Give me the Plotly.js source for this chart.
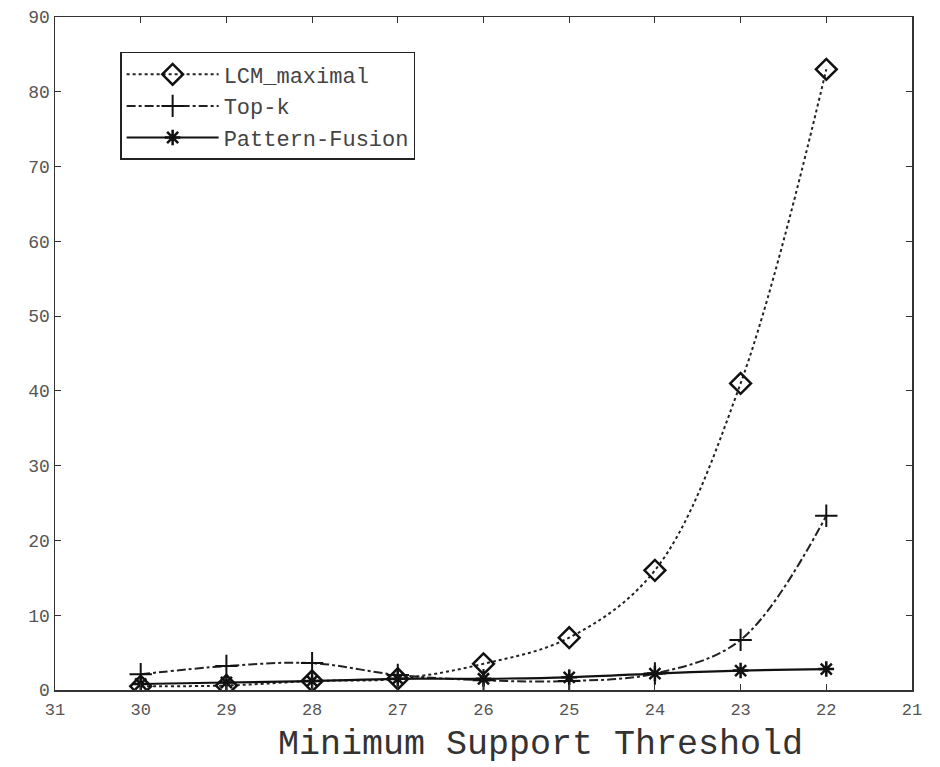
<!DOCTYPE html>
<html>
<head>
<meta charset="utf-8">
<script src="https://cdn.plot.ly/plotly-3.0.1.min.js"></script>
<style>html,body{margin:0;padding:0;background:#fff;}#chart{width:940px;height:767px;}</style>
</head>
<body>
<div id="chart"></div>
<script>
const thresholds = [30, 29, 28, 27, 26, 25, 24, 23, 22];
const lcmMaximal = [0.5, 0.6, 1.2, 1.5, 3.5, 7.0, 16.0, 41.0, 83.0];
const topK = [2.1, 3.2, 3.6, 2.0, 1.3, 1.2, 2.2, 6.7, 23.3];
const patternFusion = [0.8, 1.0, 1.2, 1.5, 1.5, 1.7, 2.2, 2.6, 2.8];
const xTicks = [31, 30, 29, 28, 27, 26, 25, 24, 23, 22, 21];
const yTicks = [0, 10, 20, 30, 40, 50, 60, 70, 80, 90];
const xTitle = 'Minimum Support Threshold';

const mono = 'Liberation Mono, DejaVu Sans Mono, monospace';

const traces = [
  {x: thresholds, y: lcmMaximal, name: 'LCM_maximal', mode: 'lines+markers',
   line: {color: '#222', width: 2, dash: 'dot', shape: 'spline'},
   marker: {symbol: 'diamond-open', size: 16, color: '#111', line: {width: 2.5, color: '#111'}}},
  {x: thresholds, y: topK, name: 'Top-k', mode: 'lines+markers',
   line: {color: '#222', width: 2, dash: 'dashdot', shape: 'spline'},
   marker: {symbol: 'cross-thin-open', size: 16, color: '#111', line: {width: 2, color: '#111'}}},
  {x: thresholds, y: patternFusion, name: 'Pattern-Fusion', mode: 'lines+markers',
   line: {color: '#111', width: 2.2, shape: 'spline'},
   marker: {symbol: 'asterisk-open', size: 13, color: '#111', line: {width: 2.5, color: '#111'}}}
];

const layout = {
  width: 940, height: 767,
  margin: {l: 55, r: 28, t: 17, b: 77},
  paper_bgcolor: '#fff', plot_bgcolor: '#fff',
  font: {family: mono, color: '#444'},
  showlegend: true,
  legend: {x: 0.076, y: 0.948, xanchor: 'left', yanchor: 'top',
    bordercolor: '#222', borderwidth: 1.5, bgcolor: '#fff',
    font: {family: mono, size: 22, color: '#444'}, itemwidth: 92,
    tracegroupgap: 0},
  annotations: [{text: xTitle, xref: 'paper', yref: 'paper', x: 0.566, y: -0.1125,
    xanchor: 'center', yanchor: 'bottom', showarrow: false, borderpad: 0,
    font: {family: mono, size: 35, color: '#333'}}],
  xaxis: {range: [31, 21], autorange: false, tickvals: xTicks, ticktext: xTicks.map(String),
    ticks: 'inside', ticklen: 6, tickcolor: '#333', mirror: 'ticks', showline: true,
    linecolor: '#333', linewidth: 1.5, showgrid: false, zeroline: false,
    ticklabelstandoff: 3,
    tickfont: {family: mono, size: 17, color: '#555'}},
  yaxis: {range: [0, 90], autorange: false, tickvals: yTicks, ticktext: yTicks.map(String),
    ticks: 'inside', ticklen: 6, tickcolor: '#333', mirror: 'ticks', showline: true,
    linecolor: '#333', linewidth: 1.5, showgrid: false, zeroline: false,
    tickfont: {family: mono, size: 18, color: '#555'}}
};

Plotly.newPlot('chart', traces, layout, {displayModeBar: false, staticPlot: true});
</script>
</body>
</html>
